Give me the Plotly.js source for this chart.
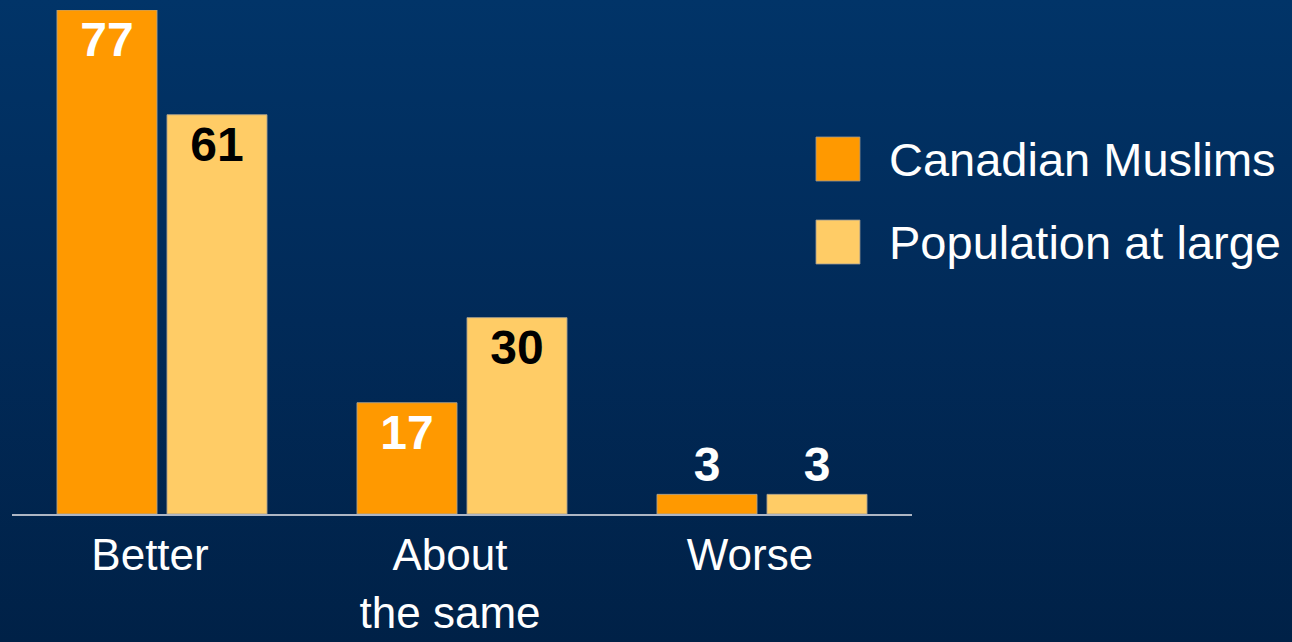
<!DOCTYPE html>
<html>
<head>
<meta charset="utf-8">
<script src="https://cdn.plot.ly/plotly-3.0.1.min.js"></script>
<style>
  html, body { margin: 0; padding: 0; }
  #chart { width: 1292px; height: 642px; background: linear-gradient(to bottom, #013468 0%, #012a58 50%, #002147 100%); }
</style>
</head>
<body>
<div id="chart"></div>
<script>
const categories = ["Better", "About<br>the same", "Worse"];
const seriesNames = ["Canadian Muslims", "Population at large"];
const muslims = [77, 17, 3];
const population = [61, 30, 3];
const colors = ["#FF9900", "#FFCC66"];

const FONT = "Liberation Sans, Arial, sans-serif";
const textPos = v => v.map(x => x >= 10 ? "inside" : "outside");

const traces = [
  {
    type: "bar", name: seriesNames[0], x: categories, y: muslims,
    text: muslims.map(String), textposition: textPos(muslims),
    insidetextanchor: "end", textangle: 0, cliponaxis: false,
    insidetextfont: { family: FONT, size: 48, color: "#FFFFFF", weight: "bold" },
    outsidetextfont: { family: FONT, size: 48, color: "#FFFFFF", weight: "bold" },
    marker: { color: colors[0], line: { color: "rgba(170,160,140,0.9)", width: 1 } },
    hoverinfo: "skip", showlegend: false
  },
  {
    type: "bar", name: seriesNames[1], x: categories, y: population,
    text: population.map(String), textposition: textPos(population),
    insidetextanchor: "end", textangle: 0, cliponaxis: false,
    insidetextfont: { family: FONT, size: 48, color: "#000000", weight: "bold" },
    outsidetextfont: { family: FONT, size: 48, color: "#FFFFFF", weight: "bold" },
    marker: { color: colors[1], line: { color: "rgba(170,160,140,0.9)", width: 1 } },
    hoverinfo: "skip", showlegend: false
  }
];

// manual legend (large swatches)
const legY = [[0.748, 0.6607], [0.5833, 0.496]];
const shapes = seriesNames.map((n, i) => ({
  type: "rect", xref: "paper", yref: "paper", layer: "above",
  x0: 0.8933, x1: 0.9422, y0: legY[i][1], y1: legY[i][0],
  fillcolor: colors[i], line: { color: "rgba(150,150,150,0.8)", width: 1 }
}));
const annotations = seriesNames.map((n, i) => ({
  xref: "paper", yref: "paper", x: 0.972, y: (legY[i][0] + legY[i][1]) / 2,
  xanchor: "left", yanchor: "middle", showarrow: false, text: n,
  font: { family: FONT, size: 47, color: "#FFFFFF" }
}));

const layout = {
  width: 1292, height: 642,
  margin: { l: 12, r: 380, t: 10, b: 128, pad: 0 },
  paper_bgcolor: "rgba(0,0,0,0)", plot_bgcolor: "rgba(0,0,0,0)",
  barmode: "group", bargap: 0.2667, bargroupgap: 0.0909,
  showlegend: false,
  xaxis: {
    type: "category", range: [-0.5, 2.5], fixedrange: true,
    showline: true, linecolor: "#AEB6C4", linewidth: 1.5,
    showgrid: false, zeroline: false, ticks: "",
    ticklabelstandoff: 2, ticklabelshift: -12,
    tickfont: { family: FONT, size: 44, color: "#FFFFFF" }
  },
  yaxis: {
    range: [0, 77], visible: false, fixedrange: true,
    showgrid: false, zeroline: false
  },
  shapes: shapes, annotations: annotations
};

Plotly.newPlot("chart", traces, layout, { displayModeBar: false, staticPlot: true });
</script>
</body>
</html>
